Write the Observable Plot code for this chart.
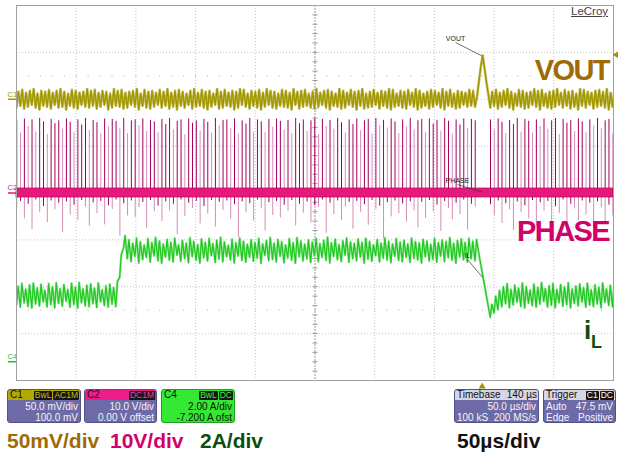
<!DOCTYPE html>
<html><head><meta charset="utf-8">
<script src="https://cdn.jsdelivr.net/npm/d3@7"></script>
<script src="https://cdn.jsdelivr.net/npm/@observablehq/plot@0.6"></script>
<style>
html,body{margin:0;padding:0;background:#fff;}
#wrap{position:relative;width:618px;height:454px;overflow:hidden;font-family:"Liberation Sans",Arial,sans-serif;}
#chart{position:absolute;left:0;top:0;}
.big{position:absolute;font-weight:bold;font-size:29px;letter-spacing:-1.6px;line-height:1;white-space:nowrap;}
.bot{position:absolute;top:430px;font-weight:bold;font-size:21px;line-height:1;white-space:nowrap;}
.box{position:absolute;top:389px;height:34px;box-sizing:border-box;border:1px solid #53518a;border-radius:3px;background:#6d6aa7;color:#f4f4f8;font-size:10px;overflow:hidden;}
.hdr{height:10px;line-height:10px;display:flex;justify-content:space-between;align-items:center;padding:0 1px 0 2px;color:#111;}
.row{height:11px;line-height:11px;display:flex;justify-content:space-between;padding:0 2px;}
.row.first{margin-top:1px;}
.tag{display:inline-block;background:#151515;font-size:8.5px;line-height:9px;padding:0 1px;margin-left:1px;border-radius:1px;}
#logo{position:absolute;left:571px;top:6px;font-size:11.5px;color:#444;text-decoration:underline;line-height:1;}
</style></head>
<body><div id="wrap"><div id="chart"></div>
<div id="logo">LeCroy</div>
<div class="big" style="right:9px;top:55.5px;color:#a06a05;">VOUT</div>
<div class="big" style="right:9px;top:217px;color:#d1006b;">PHASE</div>
<div class="big" style="left:584px;top:317px;font-size:26px;letter-spacing:0;color:#0d4d0d;">i</div>
<div class="big" style="left:591px;top:333px;font-size:18px;letter-spacing:0;color:#0d4d0d;">L</div>

<div class="box" style="left:7px;width:74px;">
  <div class="hdr" style="background:#b3a900;"><span>C1</span><span><span class="tag" style="color:#c9bf00">BwL</span><span class="tag" style="color:#c9bf00">AC1M</span></span></div>
  <div class="row first"><span></span><span>50.0 mV/div</span></div>
  <div class="row"><span></span><span>100.0 mV</span></div>
</div>
<div class="box" style="left:84px;width:73px;">
  <div class="hdr" style="background:#ee1d8c;"><span>C2</span><span><span class="tag" style="color:#ff3aa0">DC1M</span></span></div>
  <div class="row first"><span></span><span>10.0 V/div</span></div>
  <div class="row"><span></span><span>0.00 V offset</span></div>
</div>
<div class="box" style="left:161px;width:74px;background:#34e834;border-color:#1ea01e;color:#111;">
  <div class="hdr"><span>C4</span><span><span class="tag" style="color:#3cf03c">BwL</span><span class="tag" style="color:#3cf03c">DC</span></span></div>
  <div class="row first"><span></span><span>2.00 A/div</span></div>
  <div class="row"><span></span><span>-7.200 A ofst</span></div>
</div>
<div class="box" style="left:454px;width:85px;">
  <div class="hdr" style="background:#d6d6e4;"><span>Timebase</span><span>140 µs</span></div>
  <div class="row first"><span></span><span>50.0 µs/div</span></div>
  <div class="row"><span>100 kS</span><span>200 MS/s</span></div>
</div>
<div class="box" style="left:543px;width:73px;">
  <div class="hdr" style="background:#d6d6e4;"><span>Trigger</span><span><span class="tag" style="color:#fff">C1</span><span class="tag" style="color:#fff">DC</span></span></div>
  <div class="row first"><span>Auto</span><span>47.5 mV</span></div>
  <div class="row"><span>Edge</span><span>Positive</span></div>
</div>

<div class="bot" style="left:7px;color:#a06a05;">50mV/div</div>
<div class="bot" style="left:110px;color:#d1006b;">10V/div</div>
<div class="bot" style="left:200px;color:#0d4d0d;">2A/div</div>
<div class="bot" style="left:457px;color:#111;">50µs/div</div>
</div>
<script>
// ---- acquisition / screen settings ----
const screenTimeUs = [0, 500];        // 50 µs/div, 10 divisions
const screenDivs = [-4, 4];
const triggerTimeUs = 390;            // 250 µs centre + 140 µs delay
const triggerLevelmV = 47.5;
const switchPeriodUs = 3.2;           // sample spacing: one switching cycle

const channelNames = ["C1", "C2", "C4"];
const channelPerDiv = [50, 10, 2];    // mV/div, V/div, A/div
const channelOffset = [100, 0, -7.2]; // mV, V, A
const channelColors = ["#a09600", "#e0157a", "#22c722"];

const gridTimesUs = [50, 100, 150, 200, 300, 350, 400, 450];
const gridDivs = [-3, -2, -1, 1, 2, 3];
const centerTimeUs = [250];
const centerDiv = [0];
const refDotRowsDiv = [2.5, -2.5];

// ---- C4 : inductor current iL (A), one valley and one peak per cycle ----
const ilValleyA = [
2.42,2.33,2.51,2.36,2.30,2.47,2.38,2.55,2.34,2.44,2.31,2.49,2.37,2.58,2.33,2.45,2.30,2.52,2.39,2.35,
2.48,2.32,2.56,2.40,2.34,2.46,2.36,
3.60,4.85,
4.40,4.28,4.50,4.22,4.36,4.45,4.25,4.52,4.31,4.20,4.47,4.34,4.26,4.55,4.29,4.41,4.23,4.49,4.33,4.21,
4.44,4.30,4.53,4.24,4.38,4.27,4.48,4.35,4.22,4.51,4.32,4.25,4.46,4.29,4.42,4.20,4.54,4.31,4.37,4.26,
4.50,4.23,4.43,4.34,4.21,4.48,4.30,4.39,4.24,4.52,4.27,4.45,4.33,4.22,4.49,4.36,4.28,4.55,4.25,4.40,
4.31,4.47,4.21,4.38,4.29,4.53,4.26,4.42,4.34,4.23,4.50,4.32,4.27,4.46,4.24,4.41,4.35,4.22,4.48,4.30,
4.37,4.25,4.51,4.28,4.44,4.33,4.21,4.47,4.36,4.26,4.40,4.31,
4.62,3.71,2.80,1.90,2.08,2.22,
2.35,2.48,2.31,2.43,2.54,2.36,2.30,2.50,2.39,2.33,2.46,2.57,2.34,2.41,2.31,2.52,2.37,2.44,2.30,2.49,
2.38,2.55,2.33,2.42,2.36,2.47,2.31,2.53,2.40,2.35];
const ilPeakA = [
3.22,3.34,3.10,3.28,3.36,3.15,3.30,3.05,3.33,3.20,3.37,3.12,3.29,3.08,3.35,3.18,3.38,3.11,3.26,3.32,
3.14,3.36,3.07,3.24,3.31,3.16,3.42,
4.55,5.38,
5.20,5.05,5.28,5.12,4.98,5.25,5.08,5.30,5.15,5.02,5.22,5.10,5.27,4.99,5.18,5.06,5.29,5.13,5.00,5.24,
5.09,5.26,5.04,5.19,5.31,5.11,4.97,5.23,5.07,5.28,5.14,5.01,5.21,5.09,5.27,5.03,5.17,5.30,5.06,5.22,
5.12,4.98,5.25,5.08,5.29,5.15,5.02,5.20,5.10,5.26,5.04,5.18,5.31,5.07,5.23,5.00,5.16,5.28,5.11,5.05,
5.24,5.09,5.27,5.13,4.99,5.21,5.06,5.29,5.14,5.02,5.25,5.10,5.19,5.03,5.28,5.12,5.07,5.22,5.15,5.01,
5.26,5.08,5.20,5.13,5.30,5.05,5.18,5.24,5.09,5.27,5.14,5.21,
4.25,3.34,2.43,2.45,2.80,3.05,
3.20,3.33,3.09,3.27,3.14,3.36,3.21,3.06,3.31,3.17,3.38,3.12,3.25,3.34,3.08,3.29,3.19,3.37,3.10,3.23,
3.32,3.15,3.35,3.07,3.28,3.18,3.36,3.11,3.26,3.33];

// ---- C1 : VOUT ripple (mV, AC coupled) ----
const voutValleymV = [
-9,-7,-10,-8,-6,-9,-11,-7,-8,-10,-6,-9,-8,-11,-7,-9,-10,-6,-8,-9,
-7,-10,-8,-6,-11,-9,-7,-8,-10,-9,-6,-8,-11,-7,-9,-10,-8,-6,-9,-7,
-10,-8,-11,-7,-9,-6,-10,-8,-7,-9,-11,-8,-6,-10,-9,-7,-8,-11,-9,-6,
-8,-10,-7,-9,-11,-8,-6,-9,-10,-7,-8,-9,-11,-6,-10,-8,-7,-9,-10,-8,
-6,-9,-11,-7,-8,-10,-9,-6,-8,-11,-7,-10,-9,-8,-6,-10,-7,-9,-11,-8,
-7,-9,-10,-6,-8,-11,-9,-7,-10,-8,-6,-9,-11,-7,-8,-10,-9,-6,-8,-7,
-8,18,47,18,-9,
-7,-10,-8,-6,-9,-11,-7,-8,-10,-9,-6,-8,-11,-7,-9,-10,-8,-6,-9,-7,
-10,-8,-11,-7,-9,-6,-10,-8,-7,-9,-11,-8];
const voutPeakmV = [
8,10,7,9,11,6,9,8,10,7,9,11,8,6,10,9,7,8,11,9,
10,7,9,8,6,11,9,10,7,8,9,11,6,10,8,9,7,10,8,11,
7,9,10,8,6,9,11,7,10,8,9,6,11,8,10,7,9,8,11,10,
6,9,8,10,7,11,9,8,6,10,9,7,11,8,9,10,6,8,11,7,
9,10,8,6,11,9,7,10,8,9,11,6,8,10,7,9,8,11,10,6,
9,8,10,7,11,9,6,8,10,9,7,11,8,10,6,9,8,7,10,9,
2,34,33,5,8,
10,7,9,11,8,6,10,9,7,8,11,9,10,6,8,9,11,7,10,8,
9,6,11,10,8,7,9,10,8,11,7,9];

// ---- C2 : PHASE node (V): spike top and ringing bottom per cycle, null = no switching ----
const phaseTopV = [
15.5,12.8,15.8,14.2,15.6,13.0,15.9,15.2,12.5,15.7,14.8,15.4,13.6,15.8,15.1,12.9,15.6,14.5,15.9,13.3,
15.5,15.0,12.6,15.8,14.1,15.7,15.3,13.8,15.9,12.7,15.4,15.6,14.4,15.8,13.1,15.5,15.2,12.9,15.7,14.6,
15.9,13.5,15.3,15.6,12.4,15.8,14.9,15.4,13.2,15.7,15.1,12.8,15.9,14.3,15.5,15.6,13.7,15.8,12.6,15.4,
14.7,15.9,13.0,15.6,15.2,12.9,15.7,14.0,15.8,15.3,13.4,15.5,12.7,15.9,14.8,15.6,13.1,15.4,15.8,12.5,
15.7,14.2,15.5,13.6,15.9,15.0,12.8,15.6,14.6,15.8,13.3,15.4,15.7,12.6,15.9,14.4,15.5,13.9,15.8,15.2,
12.7,15.6,14.1,15.9,13.5,15.4,15.7,12.9,15.8,14.7,15.5,13.2,15.9,15.3,12.6,15.6,14.5,15.8,13.8,15.7,
15.4,null,null,null,15.6,
13.4,15.8,15.1,12.7,15.5,14.6,15.9,13.0,15.7,15.3,12.8,15.6,14.2,15.8,13.6,15.4,15.9,12.5,15.7,14.9,
15.5,13.1,15.8,15.2,12.9,15.6,14.3,15.9,13.7,15.4,15.7,12.6];
const phaseBottomV = [
-3.2,-1.8,-5.5,-2.4,-7.8,-1.5,-4.1,-2.9,-6.3,-1.7,-3.6,-2.2,-8.4,-1.9,-4.7,-2.6,-5.9,-1.6,-3.0,-7.1,
-2.1,-4.4,-1.8,-6.8,-2.7,-3.5,-1.5,-9.2,-2.3,-4.9,-1.7,-5.2,-3.1,-2.0,-7.5,-1.6,-4.0,-2.8,-6.1,-1.9,
-3.8,-2.4,-8.9,-1.5,-5.0,-2.2,-3.3,-1.8,-6.6,-2.9,-4.5,-1.6,-7.3,-2.0,-3.7,-1.7,-5.6,-2.5,-9.5,-1.9,
-4.2,-2.3,-6.0,-1.5,-3.4,-8.1,-2.1,-4.8,-1.8,-5.3,-2.6,-3.9,-1.6,-7.0,-2.4,-4.3,-1.9,-6.4,-2.7,-3.1,
-1.5,-8.6,-2.2,-4.6,-1.7,-5.8,-3.0,-2.0,-7.7,-1.8,-4.1,-2.5,-6.9,-1.6,-3.5,-2.8,-9.8,-2.1,-5.1,-1.7,
-4.4,-2.3,-6.2,-1.9,-3.8,-7.4,-2.0,-5.4,-1.6,-4.0,-2.6,-8.2,-1.8,-3.3,-5.7,-2.2,-4.6,-1.5,-7.9,-2.4,
-3.0,null,null,null,-2.5,
-4.8,-1.7,-6.5,-2.3,-3.6,-8.0,-1.9,-4.2,-2.7,-5.5,-1.6,-7.2,-2.1,-3.9,-1.8,-6.7,-2.9,-4.4,-1.5,-9.0,
-2.4,-3.4,-5.9,-1.7,-4.7,-2.2,-7.6,-1.9,-3.2,-6.1,-2.6,-4.9];
const phaseBandV = [-0.95, 0.95];

// ---- on-screen trace labels with leader lines (time µs, screen div) ----
const annoText = ["VOUT", "PHASE", "IL"];
const annoLabelT = [367.7, 369.3, 377.7];
const annoLabelDiv = [3.21, 0.18, -1.42];
const annoTipT = [389.4, 390.2, 390.3];
const annoTipDiv = [2.93, 0.02, -1.80];

// ---------------------------------------------------------------
const toDiv = (v, ch) => { const i = channelNames.indexOf(ch); return (v + channelOffset[i]) / channelPerDiv[i]; };
function pairRows(lo, hi, ch, peakDelay) {
  const out = [];
  lo.forEach((v, k) => {
    out.push({t: k * switchPeriodUs, d: toDiv(v, ch)});
    out.push({t: k * switchPeriodUs + peakDelay, d: toDiv(hi[k], ch)});
  });
  return out;
}
const ilRows = pairRows(ilValleyA, ilPeakA, "C4", 1.3);
const voutRows = pairRows(voutValleymV, voutPeakmV, "C1", 1.6);
const phaseRows = phaseTopV.map((v, k) => v == null ? null :
  {t: k * switchPeriodUs + 0.2, top: toDiv(v, "C2"), bot: toDiv(phaseBottomV[k], "C2"), top_v: v, bot_v: phaseBottomV[k]}).filter(Boolean);
const annos = annoText.map((s, i) => ({s, lt: annoLabelT[i], ld: annoLabelDiv[i], at: annoTipT[i], ad: annoTipDiv[i]}));
const chanRows = channelNames.map((c, i) => ({c, d: toDiv(0, c), color: channelColors[i]}));
const minorTicks = d3.range(screenDivs[0], screenDivs[1] + 1e-9, 0.2);

const hline = {draw(ctx, size) { const r = Math.sqrt(size / Math.PI); ctx.moveTo(-r, 0); ctx.lineTo(r, 0); }};
const gridStyle = {stroke: "#c4c4c4", strokeDasharray: "1,2", strokeWidth: 1};

const marks = [
  Plot.ruleX(gridTimesUs, gridStyle),
  Plot.ruleY(gridDivs, gridStyle),
  Plot.ruleY(refDotRowsDiv, {stroke: "#a8a8a8", strokeDasharray: "1,10.94"}),
  Plot.ruleX(centerTimeUs, {stroke: "#9a9a9a", strokeDasharray: "2,1"}),
  Plot.ruleY(centerDiv, {stroke: "#9a9a9a", strokeDasharray: "2,1"}),
  Plot.dot(minorTicks, {x: () => centerTimeUs[0], y: d => d, symbol: hline, r: 2.5, stroke: "#999", fill: "none", strokeWidth: 1}),
  Plot.line(voutRows, {x: "t", y: "d", stroke: "#c8c060", strokeWidth: 2.6, clip: true}),
  Plot.line(voutRows, {x: "t", y: "d", stroke: channelColors[0], strokeWidth: 1.3, clip: true}),
  Plot.ruleX(phaseRows.filter(d => d.bot_v <= -3), {x: "t", y1: 0, y2: "bot", stroke: "#d58cb5", strokeWidth: 1}),
  Plot.ruleX(phaseRows.filter(d => d.bot_v > -3), {x: "t", y1: 0, y2: "bot", stroke: "#a3005a", strokeWidth: 1}),
  Plot.ruleX(phaseRows.filter(d => d.top_v < 14.5), {x: "t", y1: 0, y2: "top", stroke: "#d88fb8", strokeWidth: 1}),
  Plot.ruleX(phaseRows.filter(d => d.top_v >= 14.5), {x: "t", y1: 0, y2: "top", stroke: "#a1005a", strokeWidth: 1}),
  Plot.rect([phaseBandV], {x1: () => screenTimeUs[0], x2: () => screenTimeUs[1], y1: d => toDiv(d[0], "C2"), y2: d => toDiv(d[1], "C2"), fill: "#e6187b", stroke: "#b8065a", strokeWidth: 0.8}),
  Plot.line(ilRows, {x: "t", y: "d", stroke: "#9fea9f", strokeWidth: 2.4, clip: true}),
  Plot.line(ilRows, {x: "t", y: "d", stroke: channelColors[2], strokeWidth: 1.2, clip: true}),
  Plot.link(annos, {x1: "lt", y1: "ld", x2: "at", y2: "ad", stroke: "#333", strokeWidth: 0.7}),
  Plot.text(annos, {x: "lt", y: "ld", text: "s", dy: -3.5, fontSize: 7, fill: "#222", ariaLabel: "anno-text"}),
  ...chanRows.map(r => Plot.text([r], {y: "d", text: "c", frameAnchor: "left", dx: -9, dy: -5, textAnchor: "start", fontSize: 7.5, fill: r.color})),
  ...chanRows.map(r => Plot.dot([r], {y: "d", frameAnchor: "left", dx: -4.5, symbol: hline, r: 4, stroke: r.color, fill: "none", strokeWidth: 1.5})),
  Plot.frame({stroke: "#a0a0a0"}),
  Plot.dot([triggerLevelmV], {y: d => toDiv(d, "C1"), frameAnchor: "right", dx: 3, symbol: "triangle", rotate: -90, r: 2.6, fill: channelColors[0], stroke: "none"}),
  Plot.dot([triggerTimeUs], {x: d => d, frameAnchor: "bottom", dy: 6, symbol: "triangle", r: 2.6, fill: channelColors[0], stroke: "none"})
];

const svg = Plot.plot({
  width: 618, height: 392,
  marginLeft: 16, marginRight: 5, marginTop: 5, marginBottom: 12,
  x: {domain: screenTimeUs, axis: null},
  y: {domain: screenDivs, axis: null},
  style: {fontFamily: "Liberation Sans, Arial, sans-serif", background: "transparent", overflow: "visible"},
  marks
});
d3.select(svg).selectAll("g[aria-label='anno-text'] text").attr("text-decoration", "underline");
document.getElementById("chart").appendChild(svg);
</script>
</body></html>
